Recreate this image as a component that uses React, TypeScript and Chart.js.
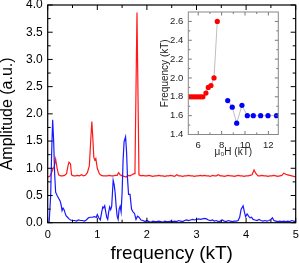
import React, { useEffect, useRef } from 'react';
import { Chart, registerables } from 'chart.js';

Chart.register(...registerables);

// ---- main spectrum: red trace ----
const redFreq = [
  0.0, 0.04, 0.08, 0.11, 0.13, 0.16, 0.19, 0.22, 0.26, 0.3, 0.34, 0.38, 0.41, 0.43, 0.46, 0.48,
  0.52, 0.56, 0.6, 0.64, 0.68, 0.72, 0.76, 0.8, 0.84, 0.87, 0.89, 0.91, 0.93, 0.95, 0.97, 1.0,
  1.04, 1.08, 1.12, 1.16, 1.2, 1.24, 1.28, 1.32, 1.36, 1.4, 1.43, 1.46, 1.5, 1.54, 1.58, 1.62,
  1.66, 1.7, 1.74, 1.76, 1.8, 1.84, 1.88, 1.92, 1.96, 2.0, 2.04, 2.08, 2.12, 2.16, 2.2, 2.24,
  2.28, 2.32, 2.36, 2.4, 2.44, 2.48, 2.52, 2.56, 2.6, 2.64, 2.68, 2.72, 2.76, 2.8, 2.84, 2.88,
  2.92, 2.96, 3.0, 3.04, 3.08, 3.12, 3.16, 3.2, 3.24, 3.28, 3.32, 3.36, 3.4, 3.44, 3.48, 3.52,
  3.56, 3.6, 3.64, 3.68, 3.72, 3.76, 3.8, 3.84, 3.88, 3.92, 3.96, 4.0, 4.04, 4.08, 4.12, 4.16,
  4.2, 4.24, 4.28, 4.32, 4.36, 4.4, 4.44, 4.48, 4.52, 4.56, 4.6, 4.64, 4.68, 4.72, 4.76, 4.8,
  4.84, 4.88, 4.92, 4.96, 5.0,
];
const redAmp = [
  0.84, 0.85, 0.92, 1.0, 1.02, 1.17, 1.0, 0.88, 0.86, 0.86, 0.87, 0.9, 1.05, 1.11, 1.08, 0.88,
  0.86, 0.86, 0.87, 0.86, 0.88, 0.86, 0.87, 0.92, 1.05, 1.55, 1.86, 1.55, 1.2, 1.15, 1.18, 1.0,
  0.9, 0.87, 0.86, 0.86, 0.86, 0.87, 0.86, 0.86, 0.87, 0.87, 0.92, 0.88, 0.86, 0.85, 0.84, 0.87,
  0.86, 0.88, 0.9, 1.0, 3.86, 0.88, 0.86, 0.87, 0.86, 0.86, 0.87, 0.86, 0.85, 0.86, 0.86, 0.87,
  0.86, 0.86, 0.85, 0.86, 0.86, 0.87, 0.86, 0.85, 0.88, 0.86, 0.86, 0.85, 0.86, 0.86, 0.87, 0.86,
  0.86, 0.85, 0.86, 0.86, 0.87, 0.86, 0.87, 0.86, 0.86, 0.85, 0.87, 0.86, 0.86, 0.88, 0.86, 0.86,
  0.85, 0.86, 0.87, 0.86, 0.86, 0.85, 0.86, 0.87, 0.86, 0.86, 0.85, 0.86, 0.86, 0.87, 0.88, 0.97,
  0.9, 0.86, 0.86, 0.87, 0.86, 0.86, 0.85, 0.86, 0.86, 0.87, 0.86, 0.85, 0.86, 0.87, 0.91, 0.89,
  0.88, 0.87, 0.86, 0.85, 0.84,
];

// ---- main spectrum: blue trace ----
const blueFreq = [
  0.0, 0.03, 0.06, 0.08, 0.1, 0.12, 0.14, 0.16, 0.19, 0.22, 0.25, 0.27, 0.29, 0.31, 0.33, 0.35,
  0.37, 0.4, 0.43, 0.46, 0.5, 0.54, 0.58, 0.62, 0.66, 0.7, 0.74, 0.78, 0.82, 0.86, 0.9, 0.94,
  0.98, 1.0, 1.03, 1.06, 1.09, 1.11, 1.13, 1.15, 1.17, 1.19, 1.21, 1.23, 1.25, 1.27, 1.29, 1.32,
  1.34, 1.36, 1.38, 1.4, 1.42, 1.44, 1.46, 1.48, 1.5, 1.52, 1.54, 1.57, 1.59, 1.61, 1.63, 1.66,
  1.69, 1.72, 1.75, 1.78, 1.81, 1.84, 1.88, 1.92, 1.96, 2.0, 2.04, 2.08, 2.12, 2.16, 2.2, 2.24,
  2.28, 2.32, 2.36, 2.4, 2.44, 2.48, 2.52, 2.56, 2.6, 2.64, 2.68, 2.72, 2.76, 2.8, 2.84, 2.88,
  2.92, 2.96, 3.0, 3.04, 3.08, 3.12, 3.16, 3.2, 3.24, 3.28, 3.32, 3.36, 3.4, 3.44, 3.48, 3.52,
  3.56, 3.6, 3.64, 3.68, 3.72, 3.76, 3.8, 3.84, 3.87, 3.9, 3.94, 3.97, 3.99, 4.02, 4.05, 4.08,
  4.11, 4.14, 4.18, 4.22, 4.26, 4.3, 4.34, 4.38, 4.42, 4.46, 4.5, 4.53, 4.56, 4.6, 4.64, 4.68,
  4.72, 4.76, 4.8, 4.84, 4.88, 4.92, 4.96, 5.0,
];
const blueAmp = [
  0.0, 0.02, 0.5, 1.3, 1.89, 1.5, 0.9, 0.56, 0.5, 0.45, 0.4, 0.33, 0.22, 0.27, 0.24, 0.18,
  0.13, 0.1, 0.07, 0.05, 0.04, 0.04, 0.03, 0.05, 0.04, 0.04, 0.03, 0.05, 0.09, 0.1, 0.1, 0.11,
  0.1, 0.15, 0.09, 0.05, 0.2, 0.29, 0.27, 0.31, 0.2, 0.1, 0.06, 0.2, 0.29, 0.24, 0.3, 0.78,
  0.7, 0.55, 0.3, 0.12, 0.06, 0.25, 0.3, 0.2, 0.55, 1.15, 1.49, 1.58, 1.3, 0.8, 0.52, 0.52,
  0.25, 0.2, 0.17, 0.06, 0.12, 0.1, 0.05, 0.04, 0.02, 0.04, 0.02, 0.01, 0.03, 0.02, 0.02, 0.03,
  0.02, 0.01, 0.03, 0.02, 0.02, 0.03, 0.02, 0.03, 0.02, 0.04, 0.03, 0.02, 0.04, 0.05, 0.04, 0.05,
  0.06, 0.05, 0.06, 0.07, 0.06, 0.07, 0.08, 0.07, 0.05, 0.04, 0.05, 0.03, 0.04, 0.02, 0.03, 0.05,
  0.03, 0.02, 0.04, 0.03, 0.02, 0.03, 0.03, 0.04, 0.1, 0.25, 0.31, 0.18, 0.11, 0.16, 0.12, 0.09,
  0.1, 0.06, 0.05, 0.04, 0.06, 0.04, 0.03, 0.04, 0.03, 0.04, 0.06, 0.09, 0.04, 0.03, 0.02, 0.03,
  0.02, 0.03, 0.02, 0.03, 0.02, 0.04, 0.03, 0.02,
];

// ---- inset: frequency vs field ----
const insetRedField = [5.2, 5.4, 5.6, 5.8, 6.0, 6.2, 6.4, 6.66, 6.86, 7.09, 7.35, 7.63];
const insetRedFreq = [1.8, 1.8, 1.8, 1.8, 1.8, 1.8, 1.8, 1.84, 1.9, 1.92, 2.0, 2.6];
const insetBlueField = [8.52, 8.91, 9.29, 9.74, 10.2, 10.71, 11.34, 11.97, 12.7];
const insetBlueFreq = [1.76, 1.69, 1.52, 1.71, 1.6, 1.6, 1.6, 1.6, 1.6];

// ---- tick values ----
const mainXMajor = [0, 1, 2, 3, 4, 5];
const mainXMinor = [0.5, 1.5, 2.5, 3.5, 4.5];
const mainYMajor = [0, 0.5, 1, 1.5, 2, 2.5, 3, 3.5, 4];
const mainYMinor = [0.25, 0.75, 1.25, 1.75, 2.25, 2.75, 3.25, 3.75];
const insetXMajor = [6, 8, 10, 12];
const insetXMinor = [7, 9, 11];
const insetYMajor = [1.4, 1.6, 1.8, 2.0, 2.2, 2.4, 2.6];
const insetYMinor = [1.5, 1.7, 1.9, 2.1, 2.3, 2.5];

const FONT = '"Liberation Sans", Arial, Helvetica, sans-serif';

const zip = (xs: number[], ys: number[]) => xs.map((x, i) => ({ x, y: ys[i] }));

const frameTicks = {
  id: 'frameTicks',
  afterDatasetsDraw(chart: any, _args: any, opts: any) {
    const { ctx, chartArea } = chart;
    const { left, right, top, bottom } = chartArea;
    const xs = chart.scales.x;
    const ys = chart.scales.y;
    ctx.save();
    ctx.strokeStyle = opts.tickColor;
    ctx.lineWidth = opts.tickWidth;
    ctx.beginPath();
    const vx = (vals: number[], len: number) =>
      vals.forEach((v) => {
        const p = xs.getPixelForValue(v);
        ctx.moveTo(p, bottom);
        ctx.lineTo(p, bottom - len);
        ctx.moveTo(p, top);
        ctx.lineTo(p, top + len);
      });
    const vy = (vals: number[], len: number) =>
      vals.forEach((v) => {
        const p = ys.getPixelForValue(v);
        ctx.moveTo(left, p);
        ctx.lineTo(left + len, p);
        ctx.moveTo(right, p);
        ctx.lineTo(right - len, p);
      });
    vx(opts.xMajor, opts.major);
    vx(opts.xMinor, opts.minor);
    vy(opts.yMajor, opts.major);
    vy(opts.yMinor, opts.minor);
    ctx.stroke();
    ctx.strokeStyle = opts.frameColor;
    ctx.lineWidth = opts.frameWidth;
    ctx.strokeRect(left, top, right - left, bottom - top);
    ctx.restore();
  },
};

function MainChart() {
  const ref = useRef<HTMLCanvasElement>(null);
  useEffect(() => {
    const chart = new Chart(ref.current!, {
      type: 'line',
      data: {
        datasets: [
          {
            data: zip(blueFreq, blueAmp),
            borderColor: 'rgb(25,25,255)',
            borderWidth: 1.2,
            pointRadius: 0,
            tension: 0,
          },
          {
            data: zip(redFreq, redAmp),
            borderColor: 'rgb(255,25,25)',
            borderWidth: 1.2,
            pointRadius: 0,
            tension: 0,
          },
        ],
      },
      options: {
        responsive: false,
        animation: false,
        events: [],
        layout: { padding: { left: 0, top: 5, right: 3.3, bottom: 0 } },
        plugins: {
          legend: { display: false },
          tooltip: { enabled: false },
          frameTicks: {
            xMajor: mainXMajor,
            xMinor: mainXMinor,
            yMajor: mainYMajor,
            yMinor: mainYMinor,
            major: 5,
            minor: 3,
            tickColor: '#000',
            tickWidth: 1,
            frameColor: '#000',
            frameWidth: 1.2,
          },
        } as any,
        scales: {
          x: {
            type: 'linear',
            min: 0,
            max: 5,
            grid: { display: false, drawTicks: false },
            border: { display: false },
            afterBuildTicks: (s: any) => {
              s.ticks = mainXMajor.map((value) => ({ value }));
            },
            afterFit: (s: any) => {
              s.height = 40.3;
              s.paddingLeft = 0;
              s.paddingRight = 0;
            },
            ticks: {
              padding: 6,
              color: '#000',
              maxRotation: 0,
              font: { family: FONT, size: 11 },
              callback: (v: any) => String(v),
            },
            title: {
              display: true,
              text: 'frequency (kT)',
              color: '#000',
              font: { family: FONT, size: 19, lineHeight: 1 },
              padding: { top: 0, bottom: 0 },
            },
          },
          y: {
            type: 'linear',
            min: 0,
            max: 4,
            grid: { display: false, drawTicks: false },
            border: { display: false },
            afterBuildTicks: (s: any) => {
              s.ticks = mainYMajor.map((value) => ({ value }));
            },
            afterFit: (s: any) => {
              s.width = 47.7;
              s.paddingTop = 0;
              s.paddingBottom = 0;
            },
            ticks: {
              padding: 5,
              color: '#000',
              font: { family: FONT, size: 12 },
              callback: (v: any) => Number(v).toFixed(1),
            },
            title: {
              display: true,
              text: 'Amplitude (a.u.)',
              color: '#000',
              font: { family: FONT, size: 16, lineHeight: 1 },
              padding: { top: 0, bottom: 0 },
            },
          },
        },
      },
      plugins: [frameTicks],
    });
    return () => chart.destroy();
  }, []);
  return (
    <canvas
      ref={ref}
      width={299}
      height={263}
      style={{ position: 'absolute', left: 0, top: 0, width: 299, height: 263 }}
    />
  );
}

function InsetChart() {
  const ref = useRef<HTMLCanvasElement>(null);
  useEffect(() => {
    const common = {
      borderColor: 'rgb(190,190,190)',
      borderWidth: 1,
      pointRadius: 2.6,
      pointBorderWidth: 0,
      tension: 0,
    };
    const chart = new Chart(ref.current!, {
      type: 'line',
      data: {
        datasets: [
          {
            ...common,
            data: zip(insetRedField, insetRedFreq),
            pointBackgroundColor: 'rgb(255,0,0)',
            pointBorderColor: 'rgb(255,0,0)',
          },
          {
            ...common,
            data: zip(insetBlueField, insetBlueFreq),
            pointBackgroundColor: 'rgb(0,0,255)',
            pointBorderColor: 'rgb(0,0,255)',
          },
        ],
      },
      options: {
        responsive: false,
        animation: false,
        events: [],
        layout: { padding: { left: 0, top: 10, right: 11.7, bottom: 0 } },
        plugins: {
          legend: { display: false },
          tooltip: { enabled: false },
          frameTicks: {
            xMajor: insetXMajor,
            xMinor: insetXMinor,
            yMajor: insetYMajor,
            yMinor: insetYMinor,
            major: 3.5,
            minor: 2,
            tickColor: '#555',
            tickWidth: 0.8,
            frameColor: '#888',
            frameWidth: 1,
          },
        } as any,
        scales: {
          x: {
            type: 'linear',
            min: 5.15,
            max: 12.85,
            grid: { display: false, drawTicks: false },
            border: { display: false },
            afterBuildTicks: (s: any) => {
              s.ticks = insetXMajor.map((value) => ({ value }));
            },
            afterFit: (s: any) => {
              s.height = 27.5;
              s.paddingLeft = 0;
              s.paddingRight = 0;
            },
            ticks: {
              padding: 5,
              color: '#222',
              maxRotation: 0,
              font: { family: FONT, size: 9.5 },
              callback: (v: any) => String(v),
            },
            title: {
              display: true,
              text: 'μ₀H (kT)',
              color: '#222',
              font: { family: FONT, size: 10, lineHeight: 1 },
              padding: { top: 0, bottom: 5 },
            },
          },
          y: {
            type: 'linear',
            min: 1.4,
            max: 2.7,
            grid: { display: false, drawTicks: false },
            border: { display: false },
            afterBuildTicks: (s: any) => {
              s.ticks = insetYMajor.map((value) => ({ value }));
            },
            afterFit: (s: any) => {
              s.width = 38.3;
              s.paddingTop = 0;
              s.paddingBottom = 0;
            },
            ticks: {
              padding: 5,
              color: '#222',
              font: { family: FONT, size: 9.5 },
              callback: (v: any) => Number(v).toFixed(1),
            },
            title: {
              display: true,
              text: 'Frequency (kT)',
              color: '#222',
              font: { family: FONT, size: 10, lineHeight: 1 },
              padding: { top: 10, bottom: 0 },
            },
          },
        },
      },
      plugins: [frameTicks],
    });
    return () => chart.destroy();
  }, []);
  return (
    <canvas
      ref={ref}
      width={140}
      height={160}
      style={{ position: 'absolute', left: 150, top: 2, width: 140, height: 160 }}
    />
  );
}

export default function App() {
  return (
    <div
      style={{
        position: 'fixed',
        left: 0,
        top: 0,
        width: 299,
        height: 263,
        background: '#fff',
        overflow: 'hidden',
      }}
    >
      <MainChart />
      <InsetChart />
    </div>
  );
}
